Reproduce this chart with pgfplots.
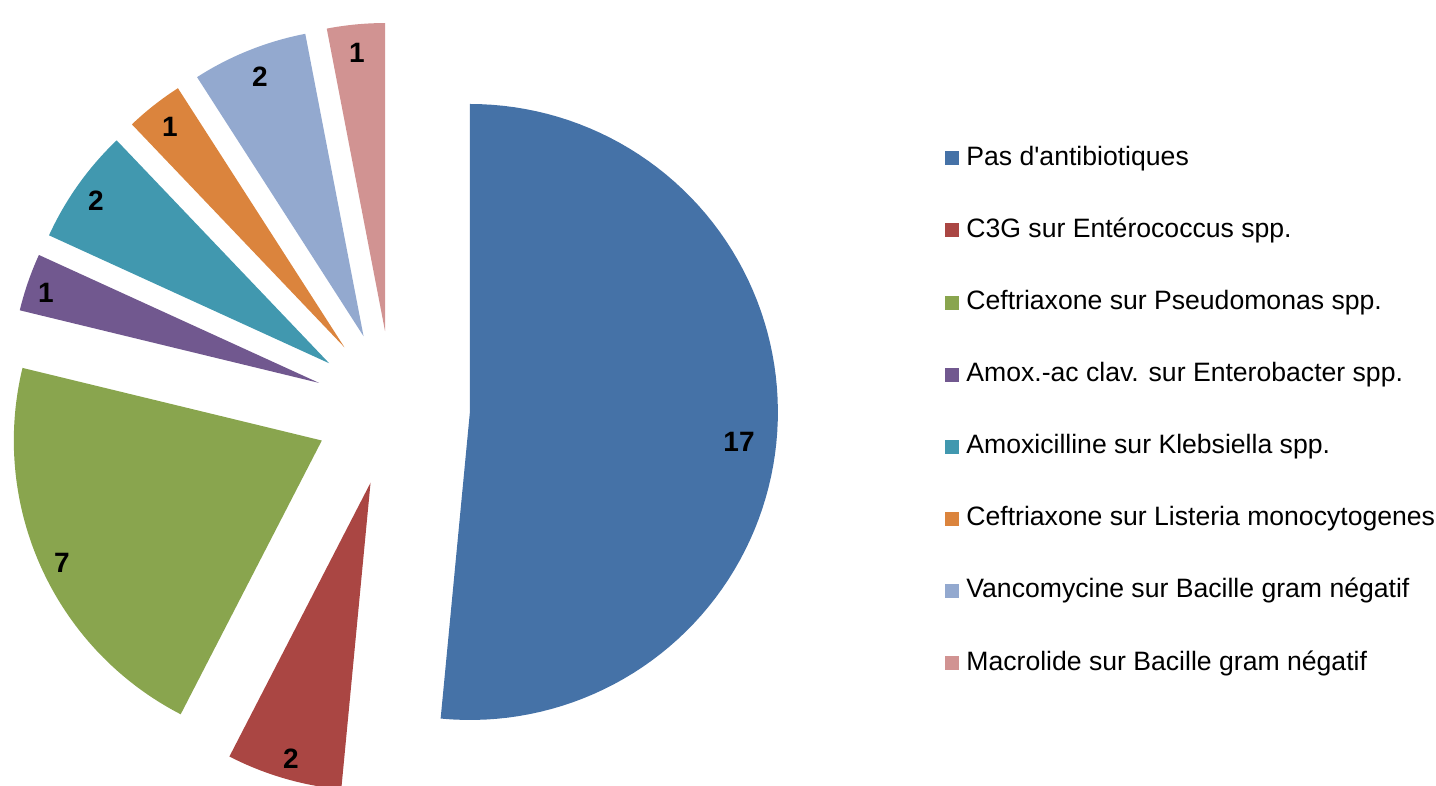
\documentclass[border=0pt]{standalone}
\usepackage{pgfplots}
\pgfplotsset{compat=1.18}
\usepackage{fontspec}
\setmainfont{Liberation Sans}
\definecolor{cBlue}{HTML}{4572A7}
\definecolor{cRed}{HTML}{AA4643}
\definecolor{cGreen}{HTML}{89A54E}
\definecolor{cPurple}{HTML}{71588F}
\definecolor{cTeal}{HTML}{4198AF}
\definecolor{cOrange}{HTML}{DB843D}
\definecolor{cLav}{HTML}{93A9CF}
\definecolor{cPink}{HTML}{D19392}
% pie geometry (axis units = pixels)
\def\cx{392.4}\def\cy{377.7}\def\ex{77.6}\def\R{308}\def\tot{33}
% #1 cumulative count before slice, #2 value, #3 colour, #4 legend text
\newcommand{\slice}[4]{%
  \pgfmathsetmacro{\aS}{90-360*#1/\tot}%
  \pgfmathsetmacro{\aE}{90-360*(#1+#2)/\tot}%
  \pgfmathsetmacro{\aM}{(\aS+\aE)/2}%
  \pgfmathsetmacro{\px}{\cx+\ex*cos(\aM)}%
  \pgfmathsetmacro{\py}{\cy+\ex*sin(\aM)}%
  \edef\temp{\noexpand\addplot[fill=#3, draw=none, domain=\aE:\aS, samples=90]
    ({\px+\R*cos(x)},{\py+\R*sin(x)}) -- (axis cs:\px,\py) -- cycle;}%
  \temp
  \addlegendentry{#4}%
}
\begin{document}
\begin{tikzpicture}
\begin{axis}[
  width=718pt, height=393pt, scale only axis,
  xmin=0, xmax=1436, ymin=0, ymax=786,
  hide axis, clip=true,
  legend image code/.code={\fill[#1] (0pt,-3.5pt) rectangle (7pt,3.5pt);},
  legend cell align=left,
  legend style={at={(axis cs:945,641)}, anchor=north west, draw=none, fill=none,
    inner sep=0pt, row sep=23.05pt, column sep=3.5pt,
    font=\fontsize{13.3}{15}\selectfont,
    nodes={inner sep=0pt, text height=10pt, text depth=3pt}},
]
\slice{0}{17}{cBlue}{Pas d\textquotesingle antibiotiques}
\slice{17}{2}{cRed}{C3G sur Entérococcus spp.}
\slice{19}{7}{cGreen}{Ceftriaxone sur Pseudomonas spp.}
\slice{26}{1}{cPurple}{Amox.-ac clav. sur Enterobacter spp.}
\slice{27}{2}{cTeal}{Amoxicilline sur Klebsiella spp.}
\slice{29}{1}{cOrange}{Ceftriaxone sur Listeria monocytogenes}
\slice{30}{2}{cLav}{Vancomycine sur Bacille gram négatif}
\slice{32}{1}{cPink}{Macrolide sur Bacille gram négatif}
\begin{scope}[every node/.style={font=\fontsize{14}{16}\selectfont\bfseries}]
\node at (axis cs:739,344) {17};
\node at (axis cs:291,27) {2};
\node at (axis cs:62,223) {7};
\node at (axis cs:46,493) {1};
\node at (axis cs:96,585) {2};
\node at (axis cs:170,659) {1};
\node at (axis cs:260,709) {2};
\node at (axis cs:357,733) {1};
\end{scope}
\end{axis}
\pgfresetboundingbox
\path (current axis.south west) rectangle (current axis.north east);
\end{tikzpicture}
\end{document}
